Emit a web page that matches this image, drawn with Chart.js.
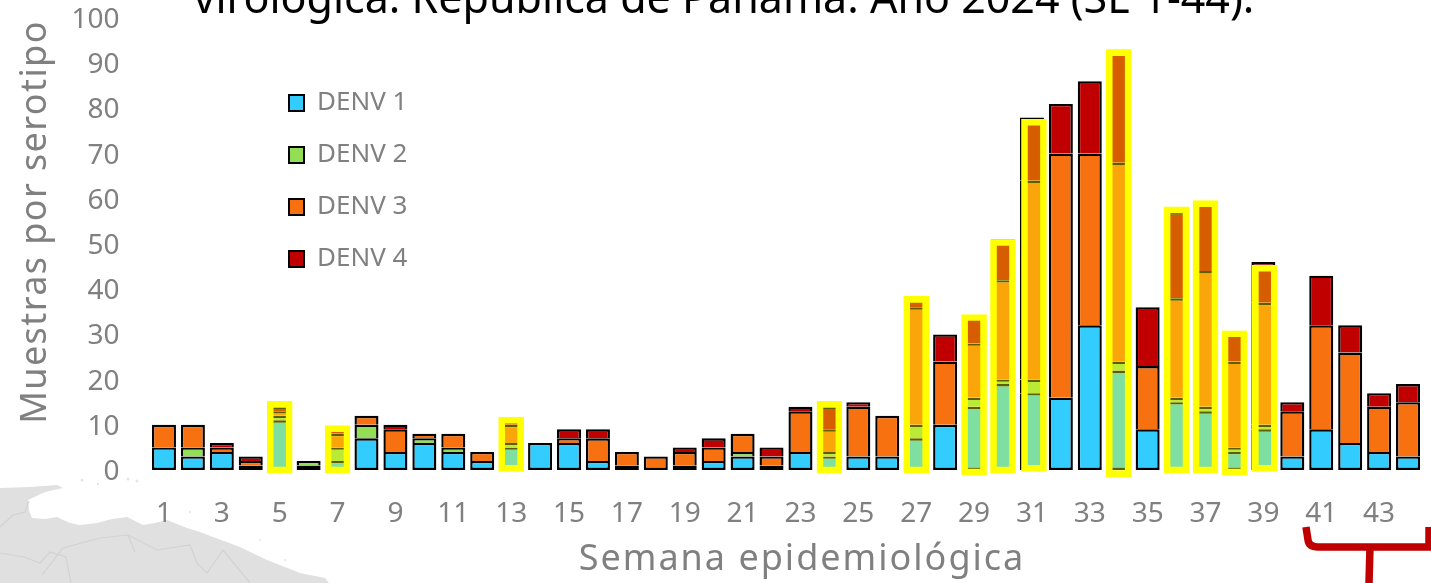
<!DOCTYPE html>
<html lang="es">
<head>
<meta charset="utf-8">
<style>
html,body{margin:0;padding:0;background:#fff;width:1431px;height:583px;overflow:hidden}
#wrap{position:relative;width:1431px;height:583px;overflow:hidden}
#deco{position:absolute;left:0;top:0}
#c{position:absolute;left:0;top:0}
#title{position:absolute;left:0;width:1448px;top:-33px;text-align:center;font:43px "Noto Sans",sans-serif;color:#000;white-space:nowrap}
</style>
<script src="https://cdn.jsdelivr.net/npm/chart.js@4"></script>
</head>
<body>
<div id="wrap">
<svg id="deco" width="1431" height="583" viewBox="0 0 1431 583">
  <path d="M0 488L30 487L57 485L63 488L45 492L28 500L29 510L32 518L45 519L57 517L70 523L80 525L97 523L112 519L127 517L143 525L155 523L167 520L187 528L200 532L213 537L240 547L267 560L300 573L325 578L329 583L0 583Z" fill="#e0e0e0"/>
  <g fill="none" stroke="#d2d2d2" stroke-width="1.2">
    <path d="M0 527L13 515L25 512L29 501"/>
    <path d="M0 553L24 557L40 563L50 552L66 557L71 583"/>
    <path d="M42 575L63 548L100 538L128 535L157 550L190 545L197 563L207 573L223 550L250 583"/>
    <path d="M128 535L135 552"/>
  </g>
  <g fill="#e6e6e6">
    <circle cx="128" cy="479" r="1.5"/><circle cx="137" cy="481" r="1.5"/><circle cx="82" cy="480" r="1.5"/><circle cx="98" cy="484" r="1.2"/>
    <circle cx="260" cy="540" r="1"/><circle cx="285" cy="560" r="1"/><circle cx="190" cy="512" r="1"/>
  </g>
  <path d="M1306 527L1308 540Q1309 547 1318 547L1431 547M1429 527L1429 547M1370 547L1369 583" fill="none" stroke="#c00000" stroke-width="7.5"/>
</svg>
<canvas id="c" width="1431" height="583"></canvas>
<div id="title">virológica. República de Panamá. Año 2024 (SE 1-44).</div>
</div>
<script>
const weeks = Array.from({length:44},(_,i)=>String(i+1));
const denv1 = [5,3,4,1,11,1,2,7,4,6,4,2,5,6,6,2,1,0,1,2,3,1,4,3,3,3,7,10,14,19,17,16,32,22,9,15,13,4,9,3,9,6,4,3];
const denv2 = [0,2,0,0,1,1,3,3,0,1,1,0,1,0,0,0,0,0,0,0,1,0,0,1,0,0,3,0,2,1,3,0,0,2,0,1,1,1,1,0,0,0,0,0];
const denv3 = [5,5,1,1,1,0,3,2,5,1,3,2,4,0,1,5,3,3,3,3,4,2,9,5,11,9,26,14,12,22,44,54,38,44,14,22,30,19,27,10,23,20,10,12];
const denv4 = [0,0,1,1,1,0,1,0,1,0,0,0,1,0,2,2,0,0,1,2,0,2,1,5,1,0,2,6,6,9,14,11,16,25,13,19,15,6,9,2,11,6,3,4];
const seriesNames = ["DENV 1","DENV 2","DENV 3","DENV 4"];
const seriesColors = ["#33CCFF","#92DE55","#F77110","#C00000"];
const yTicks = [0,10,20,30,40,50,60,70,80,90,100];
const highlightWeeks = [5,7,13,24,27,29,30,31,34,36,37,38,39];
const highlightLow   = [-0.7,-0.7,-0.3,-0.7,-0.7,-1.1,-0.7,-0.3,-1.5,-0.7,-0.7,-1.1,-0.3];
const highlightHigh  = [15.2,9.8,11.7,15.2,38.4,34.4,51,77.6,93,58.2,59.6,30.8,45.3];
const highlightShift = [0,0,0,0,0,0,0,0.07,0,0,0,0,0.05];

Chart.BarController.prototype._getAxis = function(){return [this.getDataset().xAxisID];};
const all = [denv1,denv2,denv3,denv4];
const highlightData = highlightWeeks.map((w,i)=>({x:w+highlightShift[i],y:[highlightLow[i],highlightHigh[i]]}));
const isLowest = (s,i)=>all.slice(0,s).every(a=>a[i]===0);
const mk = (s)=>({label:seriesNames[s],data:all[s],backgroundColor:seriesColors[s],borderColor:"#000",
  borderWidth:c=>({top:2.4,left:2.4,right:2.4,bottom:isLowest(s,c.dataIndex)?2.4:0}),
  stack:"s",order:2,barPercentage:0.83,categoryPercentage:1,borderSkipped:false,xAxisID:"x",yAxisID:"y"});
const font = "'Noto Sans',sans-serif";
const legendPlace = {id:"legendPlace",beforeDraw(chart){
  const l=chart.legend;l.left=263;l.top=64;
  const tune=(s,sp,dx,dy)=>{if(s._tuned)return;s._tuned=true;const o=s.drawTitle;
    s.drawTitle=function(){const c=this.ctx;c.save();c.letterSpacing=sp;c.translate(dx,dy);o.call(this);c.restore();};};
  tune(chart.scales.x,"2px",16,0);
  tune(chart.scales.y,"1.4px",0,-22);
  const y=chart.scales.y;
  if(!y._lab){y._lab=true;const d=y.drawLabels;y.drawLabels=function(a){const c=this.ctx;c.save();c.translate(0,2);d.call(this,a);c.restore();};}
}};

new Chart(document.getElementById("c"),{
  type:"bar",
  data:{labels:weeks,datasets:[
    mk(0),mk(1),mk(2),mk(3),
    {label:"resaltado",data:highlightData,parsing:{xAxisKey:"x",yAxisKey:"y"},backgroundColor:"rgba(255,255,0,0.37)",borderColor:"#FFFF00",borderWidth:6,borderSkipped:false,barThickness:25,grouped:false,order:1,clip:false,xAxisID:"x2",yAxisID:"y",stack:"s"}
  ]},
  plugins:[legendPlace],
  options:{
    responsive:false,animation:false,
    layout:{padding:{top:18,right:8.5,left:0,bottom:0}},
    scales:{
      x:{type:"category",stacked:true,grid:{display:false,drawTicks:false},border:{display:false},
        ticks:{autoSkip:false,maxRotation:0,minRotation:0,padding:27,color:"#808080",font:{family:font,size:28},
          callback(v,i){return i%2===0?weeks[i]:"";}},
        title:{display:true,text:"Semana epidemiológica",color:"#808080",font:{family:font,size:36},padding:{top:0,bottom:2}},
        afterFit(s){s.height=113;s.paddingLeft=0;s.paddingRight=0;}},
      x2:{type:"linear",min:0.5,max:44.5,display:false,stacked:false,offset:false},
      y:{min:0,max:100,stacked:true,afterBuildTicks(s){s.ticks=yTicks.map(v=>({value:v}));},
        grid:{display:false,drawTicks:false},border:{display:false},
        ticks:{padding:30,color:"#808080",font:{family:font,size:28}},
        title:{display:true,text:"Muestras por serotipo",color:"#808080",font:{family:font,size:36},padding:{top:14,bottom:0}},
        afterFit(s){s.width=149.5;s.paddingTop=0;s.paddingBottom=0;}}
    },
    plugins:{
      title:{display:false},tooltip:{enabled:false},
      legend:{display:true,position:"chartArea",align:"start",
        labels:{boxWidth:15,boxHeight:16,padding:26,color:"#808080",font:{family:font,size:26},
          generateLabels(){return seriesNames.map((n,i)=>({text:n,fillStyle:seriesColors[i],strokeStyle:"#000",lineWidth:2,datasetIndex:i,fontColor:"#808080"}));}}}
    }
  }
});
</script>
</body>
</html>
